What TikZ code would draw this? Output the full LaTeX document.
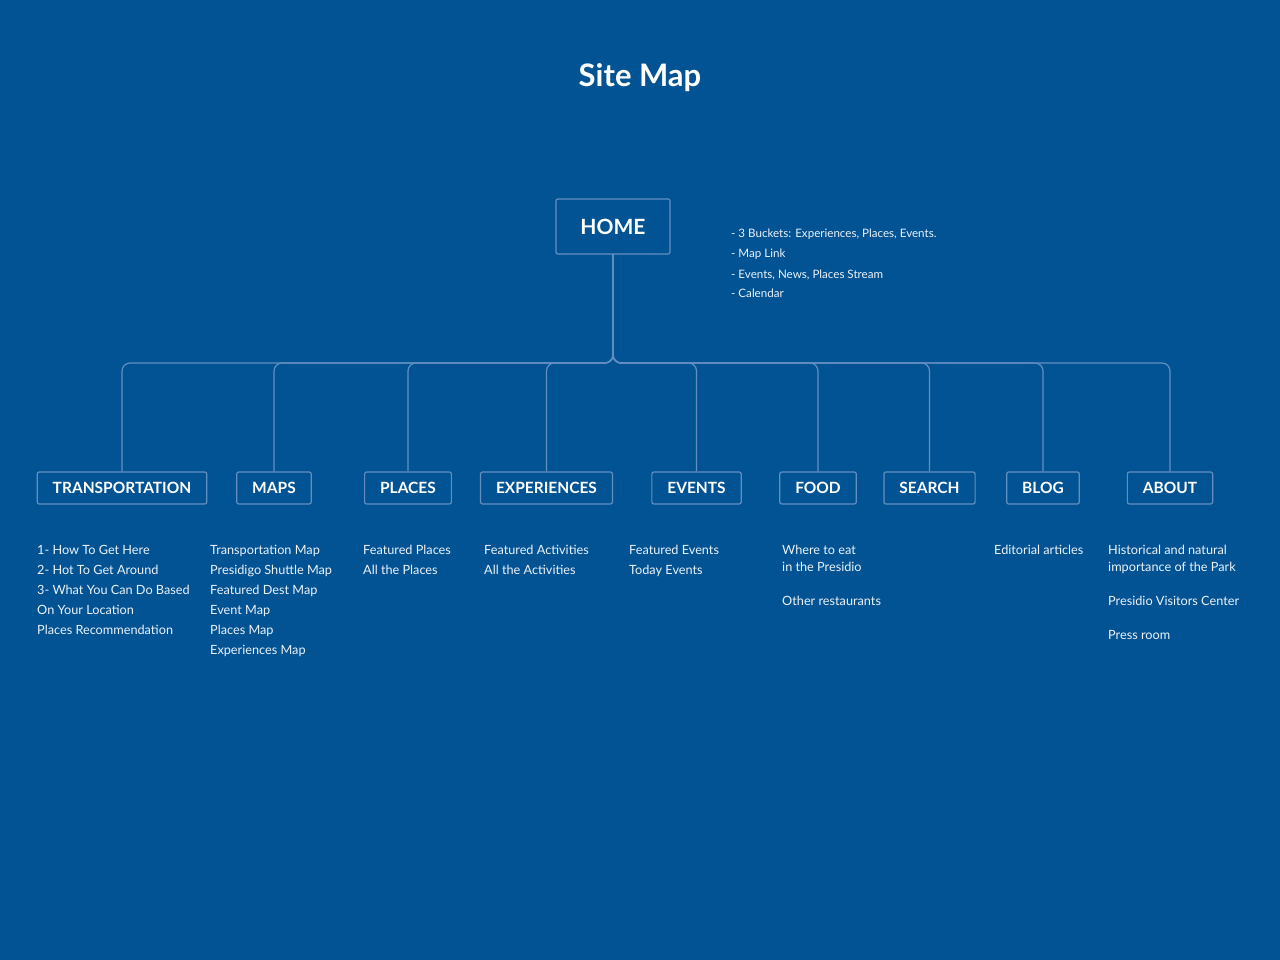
\documentclass[tikz,border=0pt]{standalone}
\usepackage{fontspec}
\setmainfont{Lato}
\usetikzlibrary{positioning}
\definecolor{bgblue}{RGB}{2,83,148}
\definecolor{lineblue}{RGB}{98,143,192}
\definecolor{notewhite}{RGB}{236,242,248}
\tikzset{
  section/.style={draw=lineblue, line width=1.2pt, rounded corners=2pt, text=white,
    font=\bfseries\fontsize{15.5}{19}\selectfont, inner xsep=15.5pt, minimum height=32pt},
  link/.style={draw=lineblue, line width=1.2pt, rounded corners=8pt},
  pagelist/.style={anchor=base west, align=left, text=notewhite, inner sep=0pt,
    font=\fontsize{12.7}{20}\selectfont},
}
\begin{document}
\begin{tikzpicture}[x=1pt, y=-1pt]
    % Background
    \fill [bgblue] (0,0) rectangle (1280,960);
    \node [anchor=base, text=white, font=\bfseries\fontsize{31}{37}\selectfont] (title) at (640,87) {Site Map};
    % Home page (base anchor sits on the last line)
    \node [section, font=\bfseries\fontsize{21}{25}\selectfont, minimum width=114pt, minimum height=55pt] (home) at (613,226.5) {HOME};
    \node [pagelist, font=\fontsize{11.6}{20}\selectfont] (homenotes) at (731,298)
      {- 3 Buckets: Experiences, Places, Events.\\- Map Link\\- Events, News, Places Stream\\- Calendar};
    % Sections
    \node [section] (tr) at (122,488) {TRANSPORTATION};
    \node [section] (ma) at (274,488) {MAPS};
    \node [section] (pl) at (408,488) {PLACES};
    \node [section] (ex) at (546.5,488) {EXPERIENCES};
    \node [section] (ev) at (696.5,488) {EVENTS};
    \node [section] (fo) at (818,488) {FOOD};
    \node [section] (se) at (929.5,488) {SEARCH};
    \node [section] (bl) at (1043,488) {BLOG};
    \node [section] (ab) at (1170,488) {ABOUT};
    % Connectors
    \coordinate (hub) at (home.south |- 0,363);
    \foreach \sec in {tr,ma,pl,ex,ev,fo,se,bl,ab}
      \draw [link] (home.south) -- (hub) -| (\sec.north);
    % Pages under each section
    \node [pagelist] (trlist) at (37,634)
      {1- How To Get Here\\2- Hot To Get Around\\3- What You Can Do Based\\On Your Location\\Places Recommendation};
    \node [pagelist] (malist) at (210,654)
      {Transportation Map\\Presidigo Shuttle Map\\Featured Dest Map\\Event Map\\Places Map\\Experiences Map};
    \node [pagelist] (pllist) at (363,574) {Featured Places\\All the Places};
    \node [pagelist] (exlist) at (484,574) {Featured Activities\\All the Activities};
    \node [pagelist] (evlist) at (629,574) {Featured Events\\Today Events};
    \node [pagelist, font=\fontsize{12.7}{17}\selectfont] (folist) at (782,605)
      {Where to eat\\in the Presidio\\[17pt]Other restaurants};
    \node [pagelist] (bllist) at (994,554) {Editorial articles};
    \node [pagelist, font=\fontsize{12.7}{17}\selectfont] (ablist) at (1108,639)
      {Historical and natural\\importance of the Park\\[17pt]Presidio Visitors Center\\[17pt]Press room};
\end{tikzpicture}
\end{document}
